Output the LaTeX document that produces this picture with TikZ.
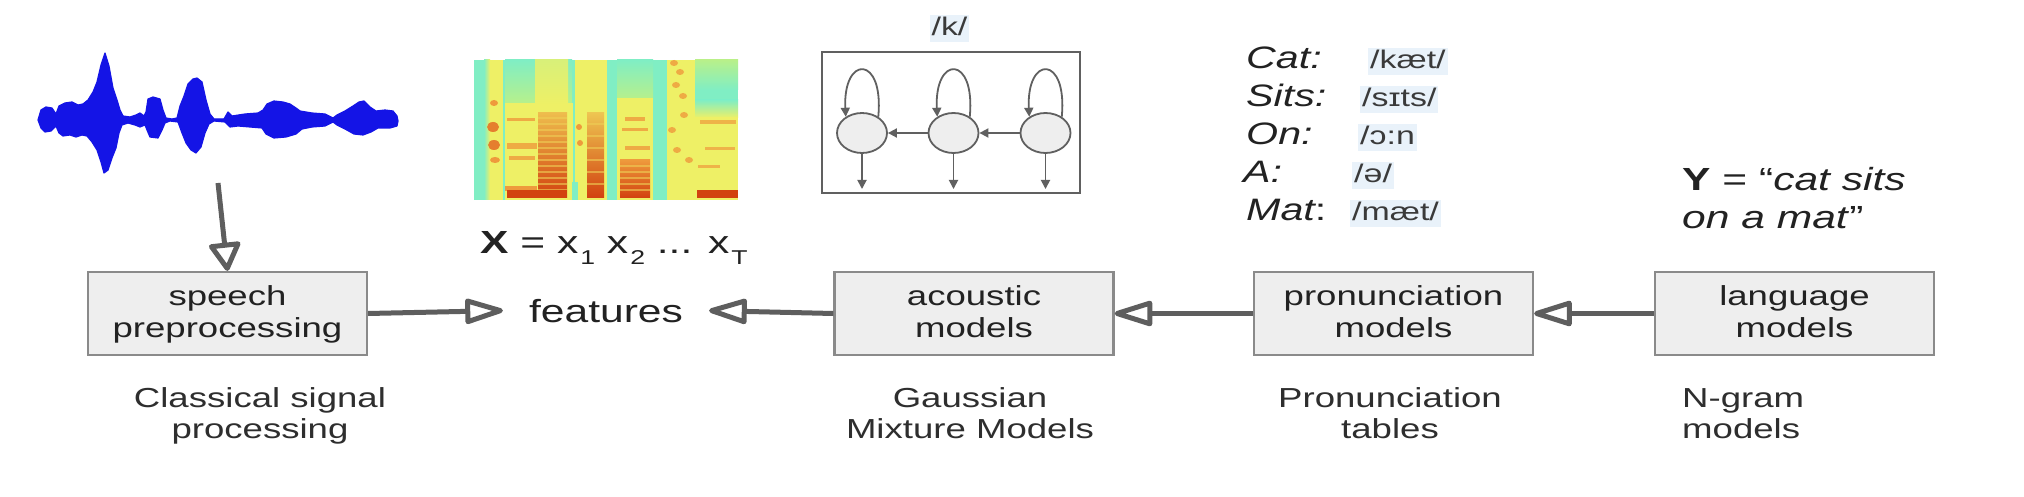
\documentclass[tikz,border=0pt]{standalone}
\usepackage{fontspec}
\setmainfont{Liberation Sans}[FakeStretch=1.33]
\usetikzlibrary{arrows.meta,shapes.geometric}
\definecolor{boxfill}{HTML}{EEEEEE}
\definecolor{boxline}{HTML}{8A8A8A}
\definecolor{arrowgray}{HTML}{5E5E5E}
\definecolor{txt}{HTML}{222222}
\definecolor{captxt}{HTML}{2E2E2E}
\definecolor{hilite}{HTML}{E9F2FA}
\definecolor{ipatxt}{HTML}{3A3A3A}
\definecolor{waveblue}{HTML}{1414E6}
\definecolor{specaqua}{HTML}{80EEC4}
\definecolor{specyellow}{HTML}{EEF066}
\definecolor{specgreen}{HTML}{B8F08A}
\definecolor{specorange}{HTML}{EE9A3C}
\definecolor{specred}{HTML}{D2410F}
\definecolor{hmmline}{HTML}{606060}
\newcommand\rkboxf{\fontsize{27.5pt}{32pt}\selectfont}
\newcommand\rkcapf{\fontsize{27.5pt}{31pt}\selectfont}
\newcommand\rkbigf{\fontsize{32pt}{38pt}\selectfont}
\newcommand\rklistf{\fontsize{31pt}{38pt}\selectfont}
\newcommand\rkipaf{\fontsize{25.5pt}{30pt}\selectfont}
\newcommand\bxs{\rule[-7pt]{0pt}{30pt}}
\newcommand\cps{\rule[-6pt]{0pt}{28pt}}
\newcommand\yst{\rule[-8pt]{0pt}{33pt}}
\newcommand\rksub[1]{\kern2pt\raisebox{-11pt}{\fontsize{20pt}{20pt}\selectfont #1}}
\tikzset{
  mbox/.style={draw=boxline, fill=boxfill, line width=2.2pt, minimum width=279pt,
    minimum height=83pt, inner sep=0pt, align=center, font=\rkboxf, text=txt},
  capt/.style={align=center, font=\rkcapf, text=captxt, inner sep=0pt},
  flowarrow/.style={draw=arrowgray, line width=5pt,
    -{Triangle[open, round, length=44pt, width=26pt]}},
  vertarrow/.style={draw=arrowgray, line width=5pt,
    -{Triangle[open, round, length=31pt, width=34pt]}},
  hmmarrow/.style={draw=hmmline, line width=1.8pt, -{Triangle[length=9pt, width=9pt]}},
  state/.style={ellipse, draw=hmmline, fill=boxfill, line width=1.8pt,
    minimum width=50pt, minimum height=40pt, inner sep=0pt},
  ipa/.style={fill=hilite, text=ipatxt, font=\rkipaf, inner xsep=2pt, inner ysep=0pt,
    text height=21pt, text depth=6pt, anchor=base west},
  word/.style={font=\rklistf\itshape, text=txt, inner sep=0pt, anchor=base west},
}
\begin{document}
\begin{tikzpicture}[x=1pt, y=-1pt]
\useasboundingbox (0,0) rectangle (2024,497);
\fill[white] (0,0) rectangle (2024,497);

% ---------- waveform ----------
\fill[waveblue, draw=waveblue, line width=1.2pt, line join=round]
 (38,120) -- (41,110) -- (46,107) -- (52,108) -- (56,114) -- (59,106) -- (65,103)
 -- (72,102) -- (78,105) -- (83,104) -- (88,100) -- (93,92) -- (97,82) -- (101,65)
 -- (105,53) -- (109,66) -- (113,88) -- (117,100) -- (120,110) -- (123,116)
 -- (130,117) -- (136,115) -- (140,113) -- (144,116) -- (146,112) -- (148,99)
 -- (153,97) -- (160,99) -- (163,110) -- (166,118) -- (172,119) -- (177,118)
 -- (180,106) -- (184,96) -- (188,84) -- (193,79) -- (197,78) -- (202,82)
 -- (206,100) -- (210,114) -- (214,119) -- (224,119) -- (228,112) -- (232,116)
 -- (245,114) -- (258,113) -- (263,110) -- (267,104) -- (274,101) -- (283,102)
 -- (290,104) -- (296,108) -- (300,111) -- (312,113) -- (325,114) -- (333,118)
 -- (337,115) -- (345,111) -- (353,106) -- (359,102) -- (364,101) -- (370,107)
 -- (376,111) -- (385,110) -- (393,111) -- (397,116) -- (398,121)
 -- (397,126) -- (390,128) -- (378,128) -- (371,132) -- (363,135) -- (354,134)
 -- (345,129) -- (337,125) -- (333,122) -- (325,126) -- (312,127) -- (302,129)
 -- (296,134) -- (286,137) -- (274,138) -- (266,134) -- (262,128) -- (250,127)
 -- (238,126) -- (230,127) -- (225,122) -- (214,121) -- (209,124) -- (205,133)
 -- (201,147) -- (196,153) -- (191,150) -- (186,143) -- (182,133) -- (178,122)
 -- (170,121) -- (165,123) -- (162,130) -- (158,138) -- (150,137) -- (147,130)
 -- (145,125) -- (140,127) -- (135,125) -- (128,123) -- (122,125) -- (119,133)
 -- (116,148) -- (112,158) -- (108,170) -- (104,173) -- (101,162) -- (97,150)
 -- (92,142) -- (87,136) -- (82,135) -- (76,137) -- (70,135) -- (63,136) -- (59,133)
 -- (56,126) -- (51,131) -- (45,132) -- (41,128) -- cycle;

% ---------- spectrogram ----------
\begin{scope}
\clip (474,60) rectangle (738,200);
\fill[specaqua] (474,60) rectangle (738,200);
\shade[left color=specaqua, right color=specyellow] (484,60) rectangle (490,200);
\fill[specyellow] (490,60) rectangle (503,200);
\shade[top color=specaqua, bottom color=specgreen] (505,60) rectangle (572,104);
\fill[specyellow] (505,103) rectangle (573,200);
\shade[top color=specyellow!80!specaqua, bottom color=specyellow] (535,60) rectangle (568,104);
\fill[specyellow] (575,60) rectangle (607,200);
\fill[specaqua] (572,182) rectangle (578,200);
\shade[top color=specaqua, bottom color=specgreen] (617,60) rectangle (653,100);
\fill[specyellow] (617,98) rectangle (653,200);
\fill[specyellow] (667,60) rectangle (695,200);
\shade[top color=specgreen, bottom color=specaqua] (695,60) rectangle (738,90);
\shade[top color=specaqua, bottom color=specyellow] (695,100) rectangle (738,118);
\fill[specyellow] (695,117) rectangle (738,200);
% band A
\fill[specorange] (494,103) ellipse (4 and 3);
\fill[specorange!70!specred] (493,127) ellipse (6 and 5);
\fill[specorange!70!specred] (494,145) ellipse (6 and 5);
\fill[specorange] (495,160) ellipse (5 and 3);
% block B
\shade[top color=specorange!60!specyellow, bottom color=specred] (538,113) rectangle (567,198);
\foreach \yy in {118,124,...,190}
  \draw[specyellow!60!specorange, line width=1.2pt, opacity=0.6] (538,\yy) -- (567,\yy);
\fill[specorange, opacity=.8] (507,118) rectangle (535,121);
\fill[specorange, opacity=.8] (507,143) rectangle (537,149);
\fill[specorange, opacity=.8] (509,156) rectangle (535,160);
\fill[specorange] (505,186) rectangle (537,191);
\fill[specred] (507,190) rectangle (567,198);
% band C
\shade[top color=specorange!50!specyellow, bottom color=specred] (587,113) rectangle (604,198);
\foreach \yy in {124,136,...,190}
  \draw[specyellow!60!specorange, line width=1.2pt, opacity=0.6] (587,\yy) -- (604,\yy);
\fill[specorange] (579,127) ellipse (3 and 3);
\fill[specorange] (580,143) ellipse (3 and 3);
% band D
\shade[top color=specorange, bottom color=specred] (620,160) rectangle (650,198);
\foreach \yy in {166,172,...,190}
  \draw[specyellow!60!specorange, line width=1.2pt, opacity=0.6] (620,\yy) -- (650,\yy);
\fill[specorange, opacity=.8] (625,117) rectangle (645,121);
\fill[specorange, opacity=.8] (622,128) rectangle (648,131);
\fill[specorange, opacity=.8] (625,146) rectangle (650,150);
% band E
\foreach \px/\py in {674/63,680/72,676/85,683/96,672/130,677/150,689/160,684/115}
  \fill[specorange, opacity=.8] (\px,\py) ellipse (4 and 3);
% right region
\fill[specred] (697,190) rectangle (738,198);
\fill[specorange, opacity=.7] (700,120) rectangle (736,124);
\fill[specorange, opacity=.7] (705,147) rectangle (735,150);
\fill[specorange, opacity=.7] (698,165) rectangle (720,168);
\end{scope}

\node[font=\rkbigf, text=txt, inner sep=0pt, anchor=base west] (xseq) at (480,254)
  {\textbf{X} = x\rksub{1} x\rksub{2} ... x\rksub{T}};

% ---------- HMM ----------
\node[ipa, anchor=base] (klabel) at (949.5,36) {/k/};
\node[draw=hmmline, line width=1.8pt, minimum width=258pt, minimum height=141pt,
  inner sep=0pt] (hmmbox) at (951,122.5) {};
\node[state] (s1) at (862,133) {};
\node[state] (s2) at (953.5,133) {};
\node[state] (s3) at (1045.5,133) {};
\draw[hmmarrow] (s1.45) .. controls +(6,-62) and +(-3,-62) .. (s1.135);
\draw[hmmarrow] (s2.45) .. controls +(6,-62) and +(-3,-62) .. (s2.135);
\draw[hmmarrow] (s3.45) .. controls +(6,-62) and +(-3,-62) .. (s3.135);
\draw[hmmarrow] (s2) -- (s1);
\draw[hmmarrow] (s3) -- (s2);
\coordinate (o1) at (862,189);
\coordinate (o2) at (953.5,189);
\coordinate (o3) at (1045.5,189);
\draw[hmmarrow] (s1) -- (o1);
\draw[hmmarrow] (s2) -- (o2);
\draw[hmmarrow] (s3) -- (o3);

% ---------- pronunciations ----------
\node[word] (wcat) at (1246,69) {Cat:};
\node[word] (wsits) at (1246,107) {Sits:};
\node[word] (won) at (1246,145) {On:};
\node[word] (wa) at (1243,183) {A:};
\node[word] (wmat) at (1246,221) {Mat{\upshape:}};
\node[ipa] (pcat) at (1368,69) {/kæt/};
\node[ipa] (psits) at (1360,107) {/sɪts/};
\node[ipa] (pon) at (1358,145) {/ɔ:n};
\node[ipa] (pa) at (1352,183) {/ə/};
\node[ipa] (pmat) at (1350,221) {/mæt/};

\node[font=\rkbigf, text=txt, inner sep=0pt, align=left, anchor=west] (ytext) at (1682,201.5)
  {\yst\textbf{Y} = “\textit{cat sits}\\\yst\textit{on a mat}”};

% ---------- pipeline ----------
\node[mbox] (sp) at (227.5,313.5) {\bxs speech\\\bxs preprocessing};
\node[font=\rkbigf, text=txt, inner xsep=26pt, inner ysep=0pt, anchor=base] (feat) at (606,322) {features};
\node[mbox] (ac) at (974,313.5) {\bxs acoustic\\\bxs models};
\node[mbox] (pr) at (1393.5,313.5) {\bxs pronunciation\\\bxs models};
\node[mbox] (lg) at (1794.5,313.5) {\bxs language\\\bxs models};

\node[capt] (spcap) at (260,414.5) {\cps Classical signal\\\cps processing};
\node[capt] (accap) at (970,414.5) {\cps Gaussian\\\cps Mixture Models};
\node[capt] (prcap) at (1390,414.5) {\cps Pronunciation\\\cps tables};
\node[capt, align=left, anchor=west] (lgcap) at (1682,414.5) {\cps N-gram\\\cps models};

\coordinate (wavebot) at (218,183);
\draw[vertarrow] (wavebot) -- (sp.north);
\draw[flowarrow] (sp.east) -- (feat.west);
\draw[flowarrow] (ac.west) -- (feat.east);
\draw[flowarrow] (pr.west) -- (ac.east);
\draw[flowarrow] (lg.west) -- (pr.east);
\end{tikzpicture}
\end{document}
